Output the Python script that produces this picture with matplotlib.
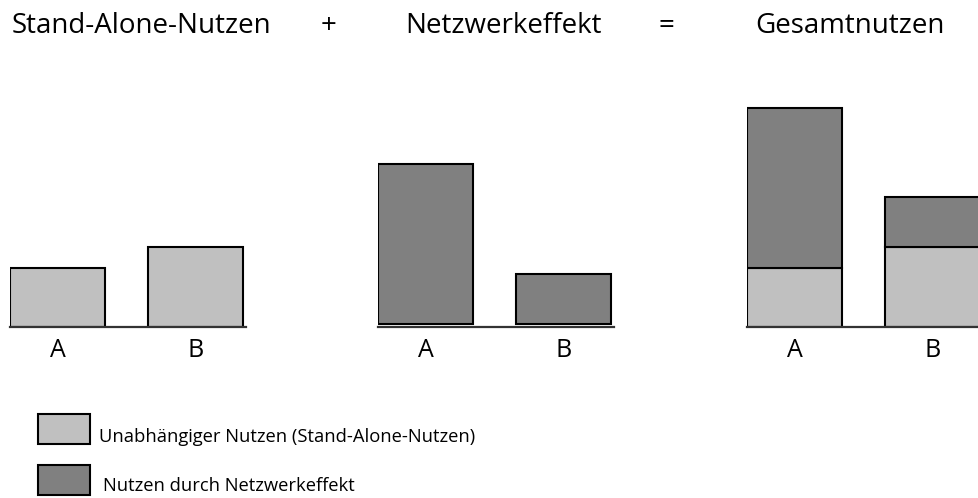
import matplotlib.pyplot as plt
from matplotlib.patches import Rectangle

# data (heights, in pixel-ish units)
products = ['A', 'B']
standalone = [59, 80]
network = [160, 50]

titles = ['Stand-Alone-Nutzen', 'Netzwerkeffekt', 'Gesamtnutzen']
operators = ['+', '=']
legend_labels = ['Unabhängiger Nutzen (Stand-Alone-Nutzen)',
                 'Nutzen durch Netzwerkeffekt']

light = '#c0c0c0'
dark = '#808080'

plt.rcParams['font.family'] = ['Open Sans', 'DejaVu Sans']

W, H = 979, 498
fig = plt.figure(figsize=(W / 100, H / 100), dpi=100)


def px_axes(left, top, bottom, width=236):
    # axes placed in pixel coordinates measured from the top-left corner
    return fig.add_axes([left / W, 1 - bottom / H, width / W, (bottom - top) / H])


def style(ax):
    ax.set_xlim(-0.345, 1.365)
    ax.set_ylim(0, 237)
    for s in ['top', 'left', 'right']:
        ax.spines[s].set_visible(False)
    ax.spines['bottom'].set_color('#333333')
    ax.spines['bottom'].set_linewidth(1.6)
    ax.set_yticks([])
    ax.set_xticks([0, 1])
    ax.set_xticklabels(products, fontsize=18)
    ax.tick_params(axis='x', length=0, pad=8)
    ax.patch.set_alpha(0)


x = [0, 1]
bw = 0.69
kw = dict(width=bw, edgecolor='black', linewidth=1.5)

ax1 = px_axes(10, 90, 327)
ax1.bar(x, standalone, color=light, **kw)
style(ax1)

ax2 = px_axes(378, 90, 327)
ax2.bar(x, network, bottom=2.5, color=dark, **kw)
style(ax2)

ax3 = px_axes(747, 90, 327)
ax3.bar(x, standalone, color=light, **kw)
ax3.bar(x, network, bottom=standalone, color=dark, **kw)
style(ax3)

# headline
title_x = [141, 503, 850]
op_x = [329, 666]
for t, xp in zip(titles, title_x):
    fig.text(xp / W, 1 - 33 / H, t, ha='center', va='baseline', fontsize=20)
for o, xp in zip(operators, op_x):
    fig.text(xp / W, 1 - 33 / H, o, ha='center', va='baseline', fontsize=20)

# legend
box_top = [414, 465]
text_base = [442, 491]
text_x = [99, 103]
for lab, col, bt, tb, tx in zip(legend_labels, [light, dark], box_top, text_base, text_x):
    fig.patches.append(Rectangle((38 / W, 1 - (bt + 30) / H), 52 / W, 30 / H,
                                 transform=fig.transFigure, facecolor=col,
                                 edgecolor='black', linewidth=1.5))
    fig.text(tx / W, 1 - tb / H, lab, ha='left', va='baseline', fontsize=13.2)

fig.savefig('out.png', dpi=100)
